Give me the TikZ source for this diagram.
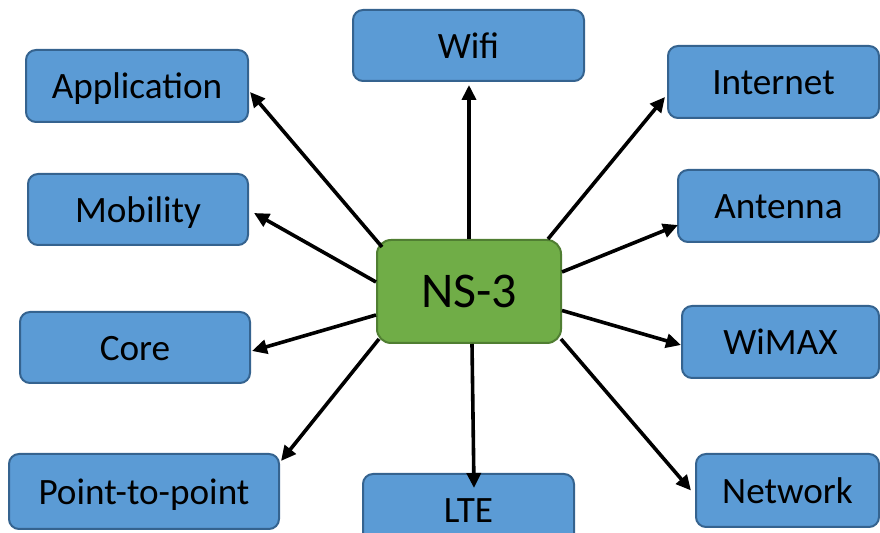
\documentclass[tikz,border=0pt]{standalone}
\usepackage{fontspec}
\setmainfont{Carlito}
\usetikzlibrary{arrows.meta,calc}
\definecolor{bfill}{HTML}{5B9BD5}
\definecolor{bdraw}{HTML}{35638F}
\definecolor{gfill}{HTML}{70AD47}
\definecolor{gdraw}{HTML}{507E32}
\tikzset{
  leaf/.style={draw=bdraw, fill=bfill, line width=1pt, rounded corners=5pt,
    inner sep=0pt, text height=14pt, text depth=1pt,
    font=\fontsize{18.6}{22}\selectfont},
  hub/.style={draw=gdraw, fill=gfill, line width=1pt, rounded corners=7pt,
    inner sep=0pt, minimum width=92pt, minimum height=51.5pt,
    font=\fontsize{25}{30}\selectfont},
  conn/.style={line width=1.8pt, -{Triangle[length=7.5pt,width=7pt]}}
}
\begin{document}
\begin{tikzpicture}[x=0.5pt,y=-0.5pt]
\useasboundingbox (0,0) rectangle (880,533);
\node[hub] (ns3) at (469,291.5) {NS-3};
\node[leaf, minimum width=111pt, minimum height=36pt] (app) at (137,86) {Application};
\node[leaf, minimum width=115.5pt, minimum height=35.5pt] (wifi) at (468.5,45.5) {Wifi};
\node[leaf, minimum width=105.5pt, minimum height=36pt] (internet) at (773.5,82) {Internet};
\node[leaf, minimum width=110pt, minimum height=35.5pt] (mobility) at (138,209.5) {Mobility};
\node[leaf, minimum width=100.5pt, minimum height=36pt] (antenna) at (778.5,206) {Antenna};
\node[leaf, minimum width=115pt, minimum height=35.5pt] (core) at (135,347.5) {Core};
\node[leaf, minimum width=98.5pt, minimum height=36pt] (wimax) at (780.5,342) {WiMAX};
\node[leaf, minimum width=135pt, minimum height=37.5pt] (p2p) at (144,491.5) {Point-to-point};
\node[leaf, minimum width=105.5pt, minimum height=35.5pt] (lte) at (468.5,509.5) {LTE};
\node[leaf, minimum width=91.5pt, minimum height=36.5pt] (network) at (787.5,490.5) {Network};

\draw[conn] ($(ns3.north west)+(6,8)$) -- ($(app.east)+(1,6)$);
\draw[conn] (ns3.north) -- ($(ns3.north |- wifi.south)+(0,3)$);
\draw[conn] ($(ns3.north east)+(-14,0)$) -- ($(internet.west)+(-2,15)$);
\draw[conn] ($(ns3.west)+(0,-9.5)$) -- ($(mobility.east)+(5,3.5)$);
\draw[conn] ($(ns3.east)+(0,-19.5)$) -- ($(antenna.west)+(1,19)$);
\draw[conn] ($(ns3.west)+(0,23.5)$) -- ($(core.east)+(1,3.5)$);
\draw[conn] ($(ns3.east)+(0,19)$) -- ($(wimax.west)+(0,3)$);
\draw[conn] ($(ns3.south west)+(3,-5)$) -- ($(p2p.north east)+(1,8)$);
\draw[conn] ($(ns3.south)+(3,0)$) -- ($(lte.north)+(5.5,15)$);
\draw[conn] ($(ns3.south east)+(-1,-5)$) -- ($(network.west)+(-4,0)$);
\end{tikzpicture}
\end{document}
